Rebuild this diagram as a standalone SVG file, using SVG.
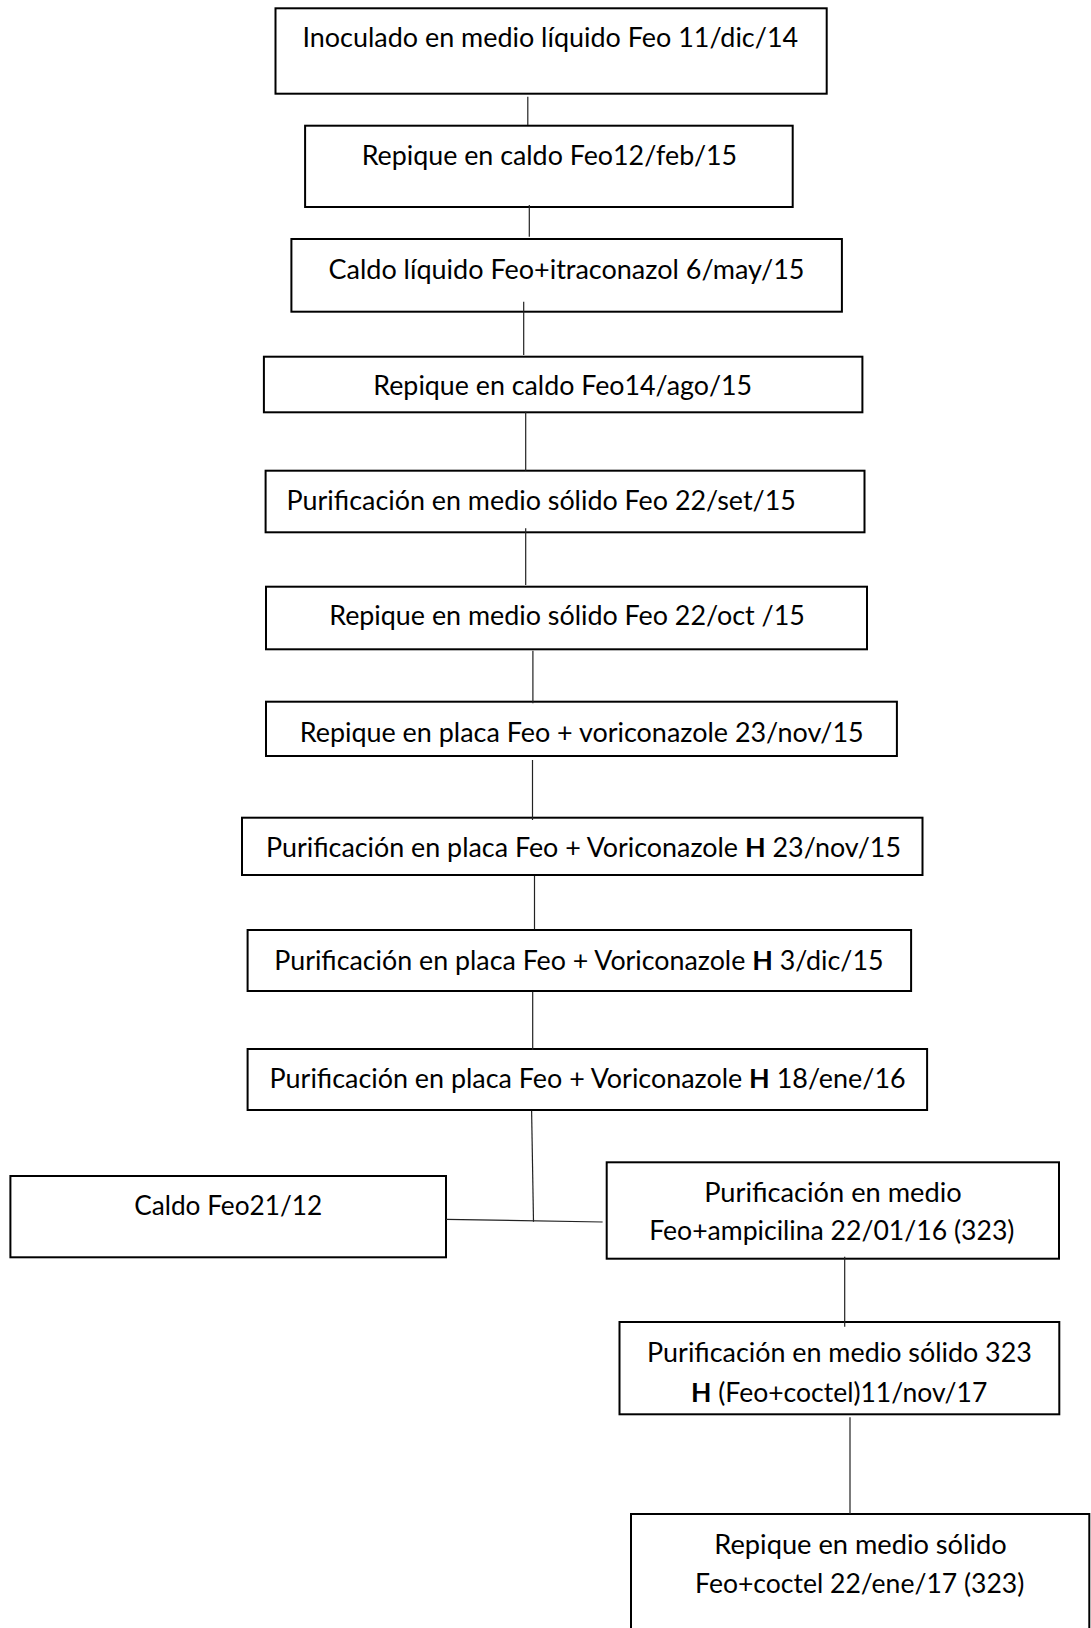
<svg xmlns="http://www.w3.org/2000/svg" width="1091" height="1628" viewBox="0 0 1091 1628">
<style>
.box{fill:#fff;stroke:#000;stroke-width:2}
.t{font-family:Lato,"Open Sans","Liberation Sans",sans-serif;font-size:26px;fill:#000;text-anchor:middle}
.s{text-anchor:start}
.b{font-weight:bold}
.c{stroke:#222;stroke-width:1.2;fill:none}
</style>
<rect width="1091" height="1628" fill="#fff"/>
<g id="n1"><rect class="box" x="275.5" y="8.3" width="551.2" height="85.4"/><text class="t" x="550.3" y="46.7" textLength="495.7" lengthAdjust="spacingAndGlyphs">Inoculado en medio líquido Feo 11/dic/14</text></g>
<g id="n2"><rect class="box" x="305.1" y="125.7" width="487.6" height="81.3"/><text class="t" x="549.4" y="165" textLength="375.5" lengthAdjust="spacingAndGlyphs">Repique en caldo Feo12/feb/15</text></g>
<g id="n3"><rect class="box" x="291.4" y="239" width="550.5" height="72.7"/><text class="t" x="566.5" y="279.3" textLength="476" lengthAdjust="spacingAndGlyphs">Caldo líquido Feo+itraconazol 6/may/15</text></g>
<g id="n4"><rect class="box" x="263.9" y="356.7" width="598.5" height="55.6"/><text class="t" x="562.7" y="395" textLength="378.8" lengthAdjust="spacingAndGlyphs">Repique en caldo Feo14/ago/15</text></g>
<g id="n5"><rect class="box" x="265.6" y="470.7" width="598.9" height="61.6"/><text class="t s" x="286.6" y="510" textLength="509.3" lengthAdjust="spacingAndGlyphs">Purificación en medio sólido Feo 22/set/15</text></g>
<g id="n6"><rect class="box" x="266" y="586.7" width="601" height="62.6"/><text class="t" x="567" y="625" textLength="475.6" lengthAdjust="spacingAndGlyphs">Repique en medio sólido Feo 22/oct /15</text></g>
<g id="n7"><rect class="box" x="266" y="701.7" width="630.9" height="54.3"/><text class="t" x="581.7" y="741.7" textLength="564" lengthAdjust="spacingAndGlyphs">Repique en placa Feo + voriconazole 23/nov/15</text></g>
<g id="n8"><rect class="box" x="242" y="817.7" width="680.5" height="57.3"/><text class="t" x="583.5" y="857.3" textLength="635" lengthAdjust="spacingAndGlyphs">Purificación en placa Feo + Voriconazole <tspan class="b">H</tspan> 23/nov/15</text></g>
<g id="n9"><rect class="box" x="247.6" y="930" width="663.5" height="61"/><text class="t" x="578.9" y="970" textLength="609.3" lengthAdjust="spacingAndGlyphs">Purificación en placa Feo + Voriconazole <tspan class="b">H</tspan> 3/dic/15</text></g>
<g id="n10"><rect class="box" x="247.6" y="1049" width="679.5" height="61"/><text class="t" x="587.6" y="1088.3" textLength="636" lengthAdjust="spacingAndGlyphs">Purificación en placa Feo + Voriconazole <tspan class="b">H</tspan> 18/ene/16</text></g>
<g id="n11"><rect class="box" x="10.4" y="1176" width="435.6" height="81.3"/><text class="t" x="228.2" y="1215" textLength="188" lengthAdjust="spacingAndGlyphs">Caldo Feo21/12</text></g>
<g id="n12"><rect class="box" x="606.7" y="1162.3" width="452.3" height="96.4"/><text class="t" x="832.9" y="1201.7" textLength="257.5" lengthAdjust="spacingAndGlyphs">Purificación en medio</text><text class="t" x="831.8" y="1240" textLength="365.3" lengthAdjust="spacingAndGlyphs">Feo+ampicilina 22/01/16 (323)</text></g>
<g id="n13"><rect class="box" x="619.5" y="1322" width="439.8" height="92.3"/><text class="t" x="839.5" y="1361.7" textLength="384.8" lengthAdjust="spacingAndGlyphs">Purificación en medio sólido 323</text><text class="t" x="839.2" y="1401.7" textLength="296.3" lengthAdjust="spacingAndGlyphs"><tspan class="b">H</tspan> (Feo+coctel)11/nov/17</text></g>
<g id="n14"><rect class="box" x="631" y="1514" width="458.3" height="130"/><text class="t" x="860.5" y="1554" textLength="292.3" lengthAdjust="spacingAndGlyphs">Repique en medio sólido</text><text class="t" x="859.7" y="1593.3" textLength="329.3" lengthAdjust="spacingAndGlyphs">Feo+coctel 22/ene/17 (323)</text></g>
<g id="connectors">
<line class="c" x1="527.8" y1="96.7" x2="527.8" y2="125"/>
<line class="c" x1="529.3" y1="205" x2="529.3" y2="236.7"/>
<line class="c" x1="523.7" y1="301.7" x2="523.7" y2="355"/>
<line class="c" x1="525.7" y1="411.7" x2="525.7" y2="470.7"/>
<line class="c" x1="525.7" y1="528.3" x2="525.7" y2="585"/>
<line class="c" x1="532.9" y1="650.7" x2="532.9" y2="703.3"/>
<line class="c" x1="532.5" y1="760" x2="532.5" y2="820"/>
<line class="c" x1="534.5" y1="876" x2="534.5" y2="929.3"/>
<line class="c" x1="532.7" y1="991.7" x2="532.7" y2="1050"/>
<line class="c" x1="531.6" y1="1110.7" x2="533.5" y2="1221.7"/>
<line class="c" x1="446" y1="1219.3" x2="602.6" y2="1222"/>
<line class="c" x1="844.7" y1="1256.7" x2="844.7" y2="1326.7"/>
<line class="c" x1="850" y1="1417.3" x2="850" y2="1514"/>
</g>
</svg>
